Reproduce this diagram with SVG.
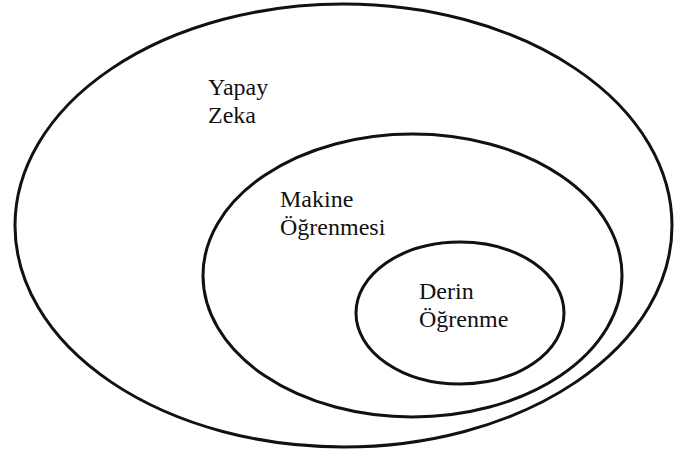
<svg xmlns="http://www.w3.org/2000/svg" width="674" height="457" viewBox="0 0 674 457">
  <rect width="674" height="457" fill="#fff"/>
  <!-- three nested sets: AI > ML > DL -->
  <g fill="none" stroke="#111" stroke-width="3">
    <ellipse id="set-yapay-zeka" cx="343.5" cy="225.5" rx="328.5" ry="221.5"/>
    <ellipse id="set-makine-ogrenmesi" cx="412.5" cy="275.5" rx="209.5" ry="141.5"/>
    <ellipse id="set-derin-ogrenme" cx="460" cy="313" rx="104" ry="71"/>
  </g>
  <g font-size="24" font-family="Liberation Serif" fill="#111">
    <text x="208" y="95">Yapay</text>
    <text x="208" y="123">Zeka</text>
    <text x="280" y="207">Makine</text>
    <text x="280" y="235">Öğrenmesi</text>
    <text x="419" y="299">Derin</text>
    <text x="419" y="327">Öğrenme</text>
  </g>
</svg>
